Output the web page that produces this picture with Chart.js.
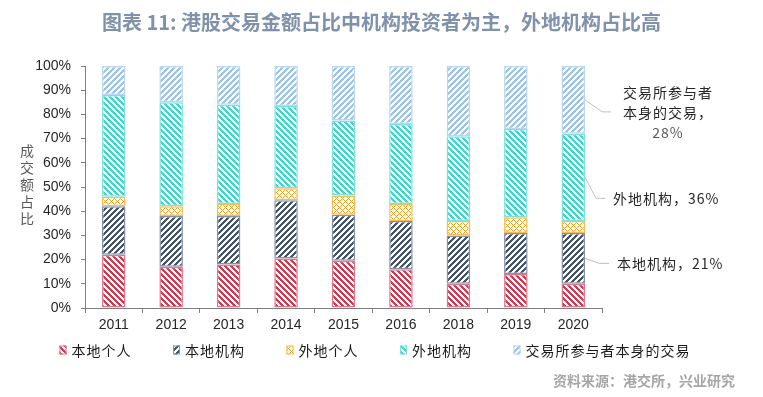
<!DOCTYPE html>
<html>
<head>
<meta charset="utf-8">
<script src="https://cdn.jsdelivr.net/npm/chart.js@4.4.1/dist/chart.umd.min.js"></script>
<style>
html,body{margin:0;padding:0;background:#fff;}
#wrap{position:relative;width:763px;height:397px;overflow:hidden;background:#fff;}
#c{position:absolute;left:0;top:0;}
#title{position:absolute;left:0;top:8px;width:763px;text-align:center;font-family:"Noto Sans CJK SC";font-weight:bold;font-size:20px;line-height:28px;color:#7f91ab;white-space:nowrap;}
#ytitle{position:absolute;left:19px;top:144px;writing-mode:vertical-rl;font-family:"Noto Sans CJK SC";font-size:14px;letter-spacing:3px;color:#595959;line-height:16px;}
#source{position:absolute;right:28px;top:370px;font-family:"Noto Sans CJK SC";font-weight:bold;font-size:14px;line-height:20px;color:#a6a6a6;white-space:nowrap;}
</style>
</head>
<body>
<div id="wrap">
  <canvas id="c" width="763" height="397"></canvas>
  <div id="title">图表 11: 港股交易金额占比中机构投资者为主，外地机构占比高</div>
  <div id="ytitle">成交额占比</div>
  <div id="source">资料来源：港交所，兴业研究</div>
</div>
<script>
// ---- data ----
const categories = ['2011','2012','2013','2014','2015','2016','2018','2019','2020'];
const seriesNames = ['本地个人','本地机构','外地个人','外地机构','交易所参与者本身的交易'];
const localRetail = [22, 17, 18, 20.5, 19.5, 16, 10, 14, 10];
const localInst = [20, 21, 20, 24, 19, 20, 20, 17, 21];
const foreignRetail = [4, 4, 5, 5, 8, 7, 6, 6.5, 5];
const foreignInst = [42, 43, 41, 34, 31, 33, 35, 36.5, 36];
const exchangeParticipants = [12, 15, 16, 16.5, 22.5, 24, 29, 26, 28];
const yTickValues = [0,10,20,30,40,50,60,70,80,90,100];

// ---- styles ----
function makePattern(color, type, s, w) {
  const c = document.createElement('canvas');
  c.width = s; c.height = s;
  const g = c.getContext('2d');
  g.fillStyle = '#ffffff'; g.fillRect(0, 0, s, s);
  g.fillStyle = color;
  for (let y = 0; y < s; y++) {
    for (let x = 0; x < s; x++) {
      const a = ((x + y) % s + s) % s;
      const b = ((x - y) % s + s) % s;
      let on;
      if (type === '/') on = a < w;
      else if (type === '\\') on = b < w;
      else on = (a === 0 || b === 0);
      if (on) g.fillRect(x, y, 1, 1);
    }
  }
  return g.createPattern(c, 'repeat');
}
const styles = [
  {fill: makePattern('#d43a4f', '\\', 6, 3), border: '#e2788a'},
  {fill: makePattern('#44546a', '/', 6, 3), border: '#8393ab'},
  {fill: makePattern('#f5a01f', 'x', 6, 1), border: '#f8bb5a'},
  {fill: makePattern('#3fd6cc', '\\', 6, 3), border: '#7fe3dc'},
  {fill: makePattern('#9dc3e6', '/', 6, 3), border: '#bcd6ee'}
];
const seriesData = [localRetail, localInst, foreignRetail, foreignInst, exchangeParticipants];

// ---- plugins ----
const customLegend = {
  id: 'customLegend',
  afterDraw(chart) {
    const ctx = chart.ctx;
    ctx.save();
    ctx.font = '14px "Noto Sans CJK SC"';
    ctx.textBaseline = 'middle';
    ctx.fillStyle = '#1a1a1a';
    try { ctx.letterSpacing = '1px'; } catch (e) {}
    const startX = 59.5, pitch = 113.5, cy = 350;
    seriesNames.forEach((name, i) => {
      const x = startX + i * pitch;
      ctx.fillStyle = styles[i].fill;
      ctx.fillRect(x, cy - 4.5, 7, 9);
      ctx.strokeStyle = styles[i].border;
      ctx.lineWidth = 1;
      ctx.strokeRect(x + 0.5, cy - 4, 6, 8);
      ctx.fillStyle = '#1a1a1a';
      ctx.fillText(name, x + 12, cy + 0.5);
    });
    ctx.restore();
  }
};

const annotations = {
  id: 'annotations',
  afterDatasetsDraw(chart) {
    const ctx = chart.ctx;
    const last = categories.length - 1;
    const items = [
      {ds: 4, dx: 17, dy: 12, hx: 9, lines: ['交易所参与者', '本身的交易，', exchangeParticipants[last] + '%'], center: 668, textDy: [-19, 1, 21]},
      {ds: 3, dx: 11, dy: 21, hx: 9, lines: ['外地机构，' + foreignInst[last] + '%'], left: 613, textDy: [0]},
      {ds: 1, dx: 14, dy: 5, hx: 10, lines: ['本地机构，' + localInst[last] + '%'], left: 617, textDy: [0]}
    ];
    ctx.save();
    items.forEach(it => {
      const el = chart.getDatasetMeta(it.ds).data[last];
      const rx = el.x + el.width / 2;
      const my = (el.y + el.base) / 2;
      const ex = rx + it.dx, ey = my + it.dy;
      ctx.strokeStyle = '#bfbfbf';
      ctx.lineWidth = 1;
      ctx.beginPath();
      ctx.moveTo(rx, my);
      ctx.lineTo(ex, ey);
      ctx.lineTo(ex + it.hx, ey);
      ctx.stroke();
      ctx.font = '14px "Noto Sans CJK SC"';
      ctx.textBaseline = 'middle';
      try { ctx.letterSpacing = '1px'; } catch (e) {}
      it.lines.forEach((t, k) => {
        ctx.fillStyle = /%$/.test(t) && it.lines.length > 1 ? '#595959' : '#262626';
        if (it.center !== undefined) {
          ctx.textAlign = 'center';
          ctx.fillText(t, it.center, ey + it.textDy[k]);
        } else {
          ctx.textAlign = 'left';
          ctx.fillText(t, it.left, ey + it.textDy[k]);
        }
      });
    });
    ctx.restore();
  }
};

const ctx = document.getElementById('c').getContext('2d');
new Chart(ctx, {
  type: 'bar',
  data: {
    labels: categories,
    datasets: seriesNames.map((name, i) => ({
      label: name,
      data: seriesData[i],
      backgroundColor: styles[i].fill,
      borderColor: styles[i].border,
      borderWidth: 1.5,
      borderSkipped: false,
      categoryPercentage: 1,
      barPercentage: 0.41
    }))
  },
  options: {
    responsive: false,
    animation: false,
    devicePixelRatio: 1,
    layout: {padding: {left: 16, right: 161, top: 66, bottom: 59}},
    plugins: {legend: {display: false}, tooltip: {enabled: false}, title: {display: false}},
    scales: {
      x: {
        stacked: true,
        grid: {display: true, drawOnChartArea: false, drawTicks: true, tickLength: 5, color: '#7f7f7f', offset: true},
        border: {display: true, color: '#7f7f7f', width: 1},
        ticks: {font: {family: 'Liberation Sans', size: 14}, color: '#262626', padding: 4, maxRotation: 0, autoSkip: false},
        afterFit(s) { s.height = 30; }
      },
      y: {
        stacked: true,
        min: 0, max: 100,
        afterBuildTicks(s) { s.ticks = yTickValues.map(v => ({value: v})); },
        ticks: {font: {family: 'Liberation Sans', size: 14}, color: '#262626', padding: 10, callback: v => v + '%'},
        grid: {display: true, drawOnChartArea: false, drawTicks: true, tickLength: 4, color: '#7f7f7f'},
        border: {display: true, color: '#7f7f7f', width: 1},
        afterFit(s) { s.width = 69; }
      }
    }
  },
  plugins: [customLegend, annotations]
});
</script>
</body>
</html>
